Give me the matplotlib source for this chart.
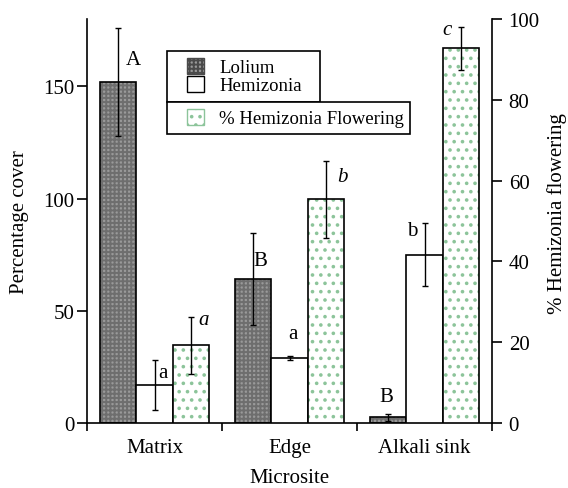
import matplotlib
matplotlib.use("Agg")
import matplotlib.pyplot as plt
import numpy as np
from matplotlib.patches import Patch, Rectangle

plt.rcParams['font.family'] = ['Liberation Serif', 'DejaVu Serif']
plt.rcParams['hatch.linewidth'] = 1.4

microsites = ["Matrix", "Edge", "Alkali sink"]
lolium = [152, 64, 2.5]
lolium_err = [24, 20.5, 1.5]
hemizonia = [17, 29, 75]
hemizonia_err = [11, 0.8, 14]
flowering = [19.2, 55.4, 92.7]
flowering_err = [7, 9.5, 5.2]

lolium_letters = ["A", "B", "B"]
hemizonia_letters = ["a", "a", "b"]
flowering_letters = ["a", "b", "c"]
# letter anchor positions (x offset within group, y in axis units)
lolium_letter_pos = [(-0.156, 162), (-0.215, 72.6), (-0.281, 11.6)]
hemizonia_letter_pos = [(0.059, 22.7), (0.022, 39.7), (-0.089, 85.6)]
flowering_letter_pos = [(0.363, 25.5), (0.393, 61.1), (0.17, 97.5)]

W, H = 568, 489
fig = plt.figure(figsize=(W / 100, H / 100), dpi=100)
ax = fig.add_axes([87 / W, 1 - 424 / H, (492 - 87) / W, (424 - 20) / H])
ax2 = ax.twinx()

x = np.arange(len(microsites))
bw = 0.267
lol_face = '#9a9a9a'
lol_hatch = '#6e6e6e'
green = '#8cc49a'
ekw = dict(ecolor='black', elinewidth=1.0, capsize=2.2, capthick=1.0)

# Lolium: textured fill then outline
ax.bar(x - bw, lolium, bw, color=lol_face, edgecolor=lol_hatch, hatch='++++', linewidth=0, zorder=2)
ax.bar(x - bw, lolium, bw, fill=False, edgecolor='black', linewidth=1.2, zorder=3)
ax.errorbar(x - bw, lolium, yerr=lolium_err, fmt='none', zorder=4, **ekw)

ax.bar(x, hemizonia, bw, color='white', edgecolor='black', linewidth=1.2, zorder=3)
ax.errorbar(x, hemizonia, yerr=hemizonia_err, fmt='none', zorder=4, **ekw)

ax2.bar(x + bw, flowering, bw, color='white', edgecolor=green, hatch='..', linewidth=0, zorder=2)
ax2.bar(x + bw, flowering, bw, fill=False, edgecolor='black', linewidth=1.2, zorder=3)
ax2.errorbar(x + bw, flowering, yerr=flowering_err, fmt='none', zorder=4, **ekw)

fs = 15
for i in range(3):
    dx, yy = lolium_letter_pos[i]
    ax.text(x[i] + dx, yy, lolium_letters[i], ha='center', va='center', fontsize=fs)
    dx, yy = hemizonia_letter_pos[i]
    ax.text(x[i] + dx, yy, hemizonia_letters[i], ha='center', va='center', fontsize=fs)
    dx, yy = flowering_letter_pos[i]
    ax2.text(x[i] + dx, yy, flowering_letters[i], ha='center', va='center', fontsize=fs, style='italic')

ax.set_xlim(-0.5, 2.5)
ax.set_ylim(0, 180)
ax2.set_ylim(0, 100)

ax.set_yticks([0, 50, 100, 150])
ax2.set_yticks([0, 20, 40, 60, 80, 100])
ax.set_xticks([-0.5, 0.5, 1.5, 2.5])
ax.set_xticklabels([])
ax.set_xticks(x, minor=True)
ax.set_xticklabels(microsites, minor=True)
ax.tick_params(axis='x', which='minor', length=0, pad=11, labelsize=fs)
ax.tick_params(axis='x', which='major', length=6, width=1.2, direction='out')
ax.tick_params(axis='y', length=7, width=1.2, direction='out', labelsize=fs, pad=2)
ax2.tick_params(axis='y', length=7, width=1.2, direction='out', labelsize=fs, pad=5)

for a in (ax, ax2):
    a.spines['top'].set_visible(False)
    for s in a.spines.values():
        s.set_linewidth(1.2)
ax.spines['right'].set_visible(False)
ax2.spines['left'].set_visible(False)
ax2.spines['bottom'].set_visible(False)

ax.set_ylabel("Percentage cover", fontsize=fs)
ax.yaxis.set_label_coords((29 - 87) / 405, 0.5)
ax.set_xlabel("Microsite", fontsize=fs)
ax.xaxis.set_label_coords(0.5, -(469 - 424) / 404)
ax2.set_ylabel("% Hemizonia flowering", fontsize=fs)
ax2.yaxis.set_label_coords((547 - 87) / 405, 0.52)

# legend frames drawn in figure pixels
for (x0, y0, x1, y1) in [(167, 52, 320, 103), (167, 103, 410, 135)]:
    fig.add_artist(Rectangle((x0 / W, 1 - y1 / H), (x1 - x0) / W, (y1 - y0) / H,
                             transform=fig.transFigure, fill=True, facecolor='white',
                             edgecolor='black', linewidth=1.2, zorder=5))

h1 = [Patch(facecolor=lol_face, edgecolor='#4a4a4a', hatch='++++', linewidth=1.0),
      Patch(facecolor='white', edgecolor='black', linewidth=1.0)]
h2 = [Patch(facecolor='white', edgecolor=green, hatch='..', linewidth=1.0)]
lfs = 13.5
common = dict(fontsize=lfs, frameon=False, borderaxespad=0, borderpad=0,
              handlelength=0.92, handleheight=0.92, handletextpad=0.8,
              bbox_transform=fig.transFigure, loc='upper left')
leg1 = fig.legend(h1, ["Lolium", "Hemizonia"], bbox_to_anchor=(187 / W, 1 - 59 / H),
                  labelspacing=-0.02, **common)
leg1.set_zorder(6)
leg2 = fig.legend(h2, ["% Hemizonia Flowering"], bbox_to_anchor=(187 / W, 1 - 110 / H),
                  **common)
leg2.set_zorder(6)

fig.savefig("out.png", dpi=100)
